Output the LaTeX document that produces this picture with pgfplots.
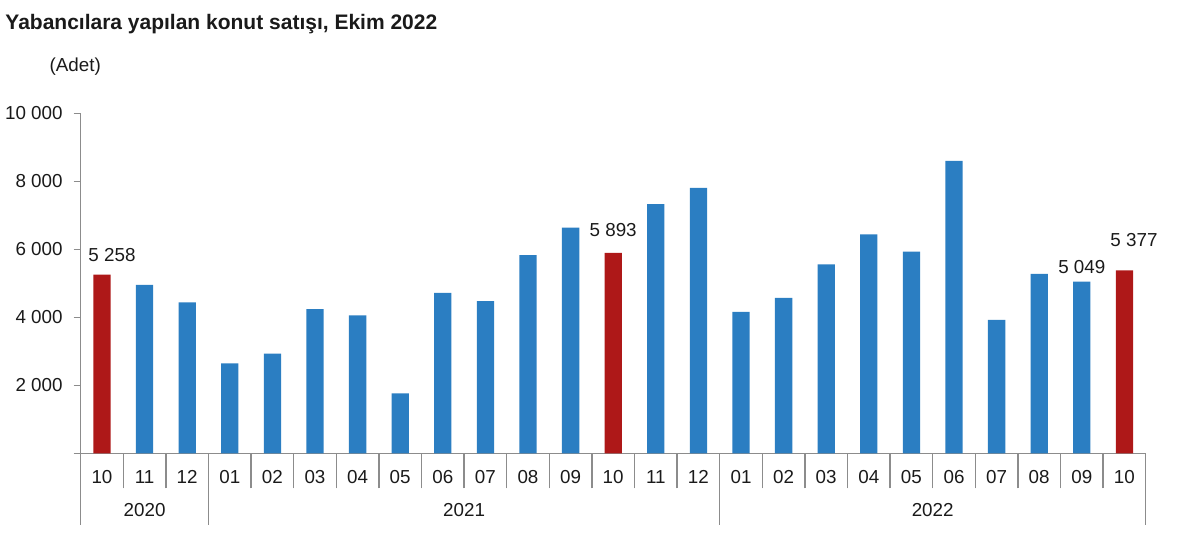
\documentclass[border=0pt]{standalone}
\usepackage{pgfplots}
\pgfplotsset{compat=1.18}
\usepackage{pgfplotstable}
\usepackage{fontspec}
\setmainfont{Liberation Sans}

\definecolor{barblue}{HTML}{2B7EC2}
\definecolor{barred}{HTML}{AE1818}
\definecolor{axisgray}{HTML}{8C8C8C}
\definecolor{txt}{HTML}{1A1A1A}

% monthly sales, index 0 = 2020/10 ... 24 = 2022/10
\pgfplotstableread{
x v
1 4950
2 4441
3 2647
4 2929
5 4244
6 4059
7 1765
8 4715
9 4479
10 5832
11 6635
13 7332
14 7803
15 4156
16 4568
17 5559
18 6441
19 5929
20 8597
21 3921
22 5274
23 5049
}\bluedata

\pgfplotstableread{
x v
0 5258
12 5893
24 5377
}\reddata

\newcommand{\lblfont}{\fontsize{9.4}{11}\selectfont}

\begin{document}
\begin{tikzpicture}
\path[use as bounding box] (0,0) rectangle (600pt,278pt);
\node[anchor=base west, inner sep=0, text=txt, font=\fontsize{10.5}{12}\selectfont\bfseries]
  at (2.5pt,263pt) {Yabancılara yapılan konut satışı, Ekim 2022};
\node[anchor=west, inner sep=0, text=txt, font=\lblfont] at (24.65pt,244.5pt) {(Adet)};

\begin{axis}[
  at={(40.35pt,51.35pt)}, anchor=south west,
  scale only axis, width=532.5pt, height=170pt,
  xmin=-0.5, xmax=24.5, ymin=0, ymax=10000,
  axis x line*=bottom, axis y line*=left,
  axis line style={axisgray, line width=0.65pt, -},
  ybar, bar width=8.65pt,
  xtick={0,...,24},
  xticklabels={10,11,12,01,02,03,04,05,06,07,08,09,10,11,12,01,02,03,04,05,06,07,08,09,10},
  minor xtick={-0.5,0.5,...,24.5},
  major x tick style={draw=none},
  tick align=outside,
  major tick length=3.5pt,
  minor tick length=17.5pt,
  tick style={axisgray, line width=0.65pt},
  ytick={0,2000,...,10000},
  yticklabels={,2 000,4 000,6 000,8 000,10 000},
  scaled y ticks=false,
  ticklabel style={font=\lblfont, text=txt},
  yticklabel style={xshift=-2pt},
  xticklabel style={anchor=center, yshift=-8.5pt},
  clip=false,
]
\addplot[fill=barblue, draw=none, bar shift=0pt] table[x=x, y=v] {\bluedata};
\addplot[fill=barred, draw=none, bar shift=0pt] table[x=x, y=v] {\reddata};

% year separators
\draw[axisgray, line width=0.65pt] (axis cs:-0.5,0) -- ++(0pt,-35.85pt);
\draw[axisgray, line width=0.65pt] (axis cs:2.5,0) -- ++(0pt,-35.85pt);
\draw[axisgray, line width=0.65pt] (axis cs:14.5,0) -- ++(0pt,-35.85pt);
\draw[axisgray, line width=0.65pt] (axis cs:24.5,0) -- ++(0pt,-35.85pt);
\node[font=\lblfont, text=txt] at ([yshift=-28.35pt]axis cs:1,0) {2020};
\node[font=\lblfont, text=txt] at ([yshift=-28.35pt]axis cs:8.5,0) {2021};
\node[font=\lblfont, text=txt] at ([yshift=-28.35pt]axis cs:19.5,0) {2022};

% value labels
\node[font=\lblfont, text=txt] at ([xshift=5pt, yshift=9.75pt]axis cs:0,5258) {5 258};
\node[font=\lblfont, text=txt] at ([yshift=11.5pt]axis cs:12,5893) {5 893};
\node[font=\lblfont, text=txt] at ([yshift=7.5pt]axis cs:23,5049) {5 049};
\node[font=\lblfont, text=txt] at ([xshift=4.8pt, yshift=15.25pt]axis cs:24,5377) {5 377};
\end{axis}
\end{tikzpicture}
\end{document}
